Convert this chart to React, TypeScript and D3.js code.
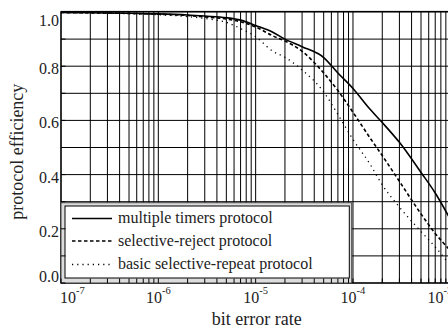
import React from "react";
import * as d3 from "d3";

// bit error rate sample points
const ber = [1e-7, 1e-6, 2e-6, 3e-6, 5e-6, 7e-6, 1e-5, 1.5e-5, 2e-5, 3e-5, 5e-5, 7e-5, 1e-4, 1.5e-4, 2e-4, 3e-4, 5e-4, 7e-4, 1e-3];

const multipleTimers = [0.998, 0.993, 0.989, 0.985, 0.979, 0.97, 0.95, 0.925, 0.9, 0.872, 0.832, 0.775, 0.718, 0.641, 0.592, 0.519, 0.408, 0.332, 0.235];
const selectiveReject = [0.998, 0.992, 0.987, 0.982, 0.974, 0.964, 0.945, 0.912, 0.893, 0.855, 0.775, 0.71, 0.63, 0.535, 0.47, 0.375, 0.255, 0.183, 0.12];
const basicRepeat = [0.998, 0.99, 0.983, 0.976, 0.962, 0.939, 0.909, 0.855, 0.833, 0.786, 0.705, 0.622, 0.53, 0.438, 0.362, 0.28, 0.19, 0.133, 0.065];

const yTicks = [0, 0.2, 0.4, 0.6, 0.8, 1.0];
const xMajor = [-7, -6, -5, -4, -3];

const series = [
  { name: "multiple timers protocol", values: multipleTimers, dash: "", width: 1.6 },
  { name: "selective-reject protocol", values: selectiveReject, dash: "3.5,2.5", width: 1.6 },
  { name: "basic selective-repeat protocol", values: basicRepeat, dash: "1.2,4", width: 1.3 },
];

const W = 448;
const H = 329;
const left = 61;
const right = 450.3;
const top = 12;
const bottom = 283;
const font = "'Liberation Serif', 'Times New Roman', serif";

export default function App() {
  const x = d3.scaleLog().domain([1e-7, 1e-3]).range([left, right]);
  const y = d3.scaleLinear().domain([0, 1]).range([bottom, top]);

  // minor + major vertical grid positions
  const xGrid: number[] = [];
  for (let e = -7; e < -3; e++) {
    for (let m = 1; m < 10; m++) xGrid.push(m * Math.pow(10, e));
  }
  xGrid.push(1e-3);
  const yGrid = d3.range(0, 11).map((i) => i / 10);

  const line = d3
    .line<number>()
    .x((_, i) => x(ber[i]))
    .y((d) => y(d))
    .curve(d3.curveMonotoneX);

  const legX = 61;
  const legY = 202.7;
  const legW = 290.7;
  const legH = bottom - legY;
  const rows = [218.5, 241, 264.5];

  return (
    <svg width={W} height={H} style={{ position: "absolute", left: 0, top: 0, background: "#fff" }}>
      <defs>
        <clipPath id="plot">
          <rect x={left} y={top - 2} width={right - left} height={bottom - top + 2} />
        </clipPath>
      </defs>
      {/* grid */}
      <g stroke="#000" strokeWidth={1}>
        {xGrid.map((v, i) => (
          <line key={"gx" + i} x1={x(v)} x2={x(v)} y1={top} y2={bottom} />
        ))}
        {yGrid.map((v, i) => (
          <line key={"gy" + i} x1={left} x2={right} y1={y(v)} y2={y(v)} />
        ))}
      </g>
      {/* curves */}
      <g clipPath="url(#plot)" fill="none" stroke="#000">
        {series.map((s) => (
          <path key={s.name} d={line(s.values) || ""} strokeWidth={s.width} strokeDasharray={s.dash || undefined} />
        ))}
      </g>
      {/* frame */}
      <rect x={left} y={top - 0.5} width={right - left} height={bottom - top + 0.5} fill="none" stroke="#000" strokeWidth={1.2} />
      {/* legend */}
      <rect x={legX} y={legY} width={legW} height={legH} fill="#dcdcdc" stroke="#444" strokeWidth={1} />
      <rect x={65} y={206} width={284.3} height={72} fill="#fff" stroke="#000" strokeWidth={1} />
      {series.map((s, i) => (
        <g key={"leg" + i}>
          <line x1={72} x2={112} y1={rows[i]} y2={rows[i]} stroke="#000" strokeWidth={s.width} strokeDasharray={s.dash || undefined} />
          <text x={118} y={rows[i] + 4.5} fontFamily={font} fontSize={16} fill="#222">
            {s.name}
          </text>
        </g>
      ))}
      {/* inward ticks */}
      <g stroke="#000" strokeWidth={1}>
        {xGrid.map((v, i) => (
          <line key={"tx" + i} x1={x(v)} x2={x(v)} y1={bottom} y2={bottom - 4.5} />
        ))}
        {yGrid.map((v, i) => (
          <line key={"ty" + i} x1={left} x2={left + 4.5} y1={y(v)} y2={y(v)} />
        ))}
      </g>
      {/* y tick labels */}
      {yTicks.map((v) => (
        <text
          key={"yl" + v}
          x={59}
          y={Math.min(282, Math.max(25.5, y(v) + 8))}
          textAnchor="end"
          fontFamily={font}
          fontSize={16}
          fill="#222"
        >
          {v.toFixed(1)}
        </text>
      ))}
      {/* x tick labels */}
      {xMajor.map((e, i) => {
        const px = x(Math.pow(10, e));
        const anchor = i === 0 ? "start" : i === xMajor.length - 1 ? "end" : "middle";
        const tx = i === 0 ? px - 1 : i === xMajor.length - 1 ? px + 2 : px;
        return (
          <text key={"xl" + e} x={tx} y={302.7} textAnchor={anchor} fontFamily={font} fontSize={16} fill="#222">
            10
            <tspan fontSize={10.5} dy={-9}>
              {e}
            </tspan>
          </text>
        );
      })}
      {/* axis titles */}
      <text x={(left + right) / 2 + 1} y={325} textAnchor="middle" fontFamily={font} fontSize={18} fill="#222">
        bit error rate
      </text>
      <text
        transform={`translate(23,151.7) rotate(-90)`}
        textAnchor="middle"
        fontFamily={font}
        fontSize={18}
        fill="#222"
      >
        protocol efficiency
      </text>
    </svg>
  );
}
